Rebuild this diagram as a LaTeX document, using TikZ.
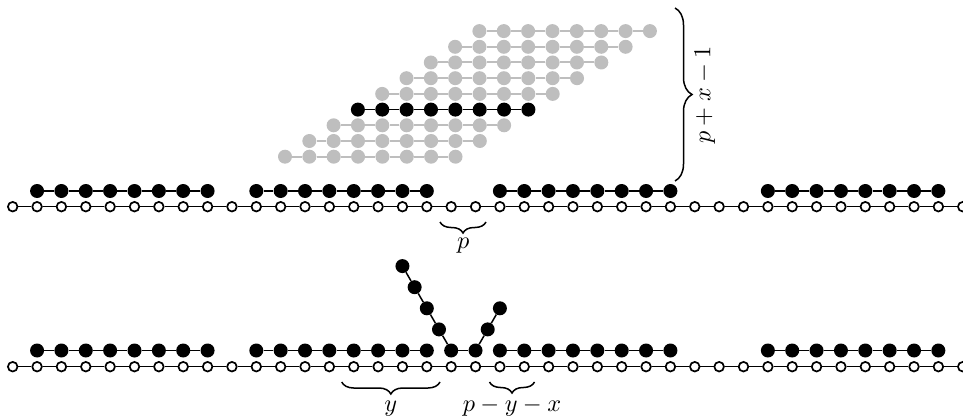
\documentclass[tikz,border=0pt]{standalone}
\usetikzlibrary{decorations.pathreplacing}
\definecolor{shade}{RGB}{190,190,190}
\tikzset{
  site/.style={circle, draw=black, fill=white, line width=1.7pt, minimum size=9.6pt, inner sep=0pt},
  bead/.style={circle, fill=black, minimum size=14pt, inner sep=0pt},
  ghost/.style={circle, fill=shade, minimum size=14pt, inner sep=0pt},
  bond/.style={line width=1.5pt},
  ghostbond/.style={line width=2pt, draw=shade},
  lbl/.style={scale=2.43, inner sep=0pt},
  brc/.style={decorate, decoration={brace, amplitude=#1}, line width=1.5pt},
}
\begin{document}
\begin{tikzpicture}[x=1pt,y=-1pt]
\useasboundingbox (0,0) rectangle (963,417);
\def\sp{24.36}
\def\xo{12.7}

% two lattices: top (t) and bottom (u)
\foreach \r/\yw/\yb in {t/206.7/191, u/366.7/350.5} {
  \foreach \i in {0,...,39}
    \node[site] (\r w\i) at ({\xo+\i*\sp},\yw) {};
  \foreach \i [remember=\i as \j (initially 0)] in {1,...,39}
    \draw[bond] (\r w\j) -- (\r w\i);
  % adsorbed segments of length 8
  \foreach \a/\b in {1/8,10/17,20/27,31/38} {
    \foreach \i in {\a,...,\b}
      \node[bead] (\r b\i) at ({\xo+\i*\sp},\yb) {};
    \pgfmathtruncatemacro\aa{\a+1}
    \foreach \i [remember=\i as \j (initially \a)] in {\aa,...,\b}
      \draw[bond] (\r b\j) -- (\r b\i);
  }
}

% sliding positions of one segment
\foreach \k in {0,...,8} {
  \pgfmathsetmacro\ys{156.7-15.7*\k}
  \pgfmathsetmacro\xs{285+24.3*\k}
  \ifnum\k=3
    \tikzset{cur/.style={bead}, curbond/.style={bond}}
  \else
    \tikzset{cur/.style={ghost}, curbond/.style={ghostbond}}
  \fi
  \foreach \j in {0,...,7}
    \node[cur] (s\k-\j) at ({\xs+\j*\sp},\ys) {};
  \foreach \j [remember=\j as \m (initially 0)] in {1,...,7}
    \draw[curbond] (s\k-\m) -- (s\k-\j);
}

% partially desorbed segment in the bottom lattice
\node[bead] (ub18) at ({\xo+18*\sp},350.5) {};
\node[bead] (ub19) at ({\xo+19*\sp},350.5) {};
\draw[bond] (ub18) -- (ub19);
\foreach \k in {1,...,4}
  \node[bead] (la\k) at ({\xo+18*\sp-12.18*\k},{350.5-21.1*\k}) {};
\draw[bond] (ub18) -- (la1) -- (la2) -- (la3) -- (la4);
\foreach \k in {1,2}
  \node[bead] (ra\k) at ({\xo+19*\sp+12.18*\k},{350.5-21.1*\k}) {};
\draw[bond] (ub19) -- (ra1) -- (ra2);

% braces and labels
\coordinate (pr) at (486,222);
\coordinate (pl) at (440,222);
\draw[brc=11pt] (pr) -- (pl);
\node[lbl, anchor=base] (plab) at (463.3,248) {$p$};

\coordinate (yr) at (440,382);
\coordinate (yl) at (341.7,382);
\draw[brc=12pt] (yr) -- (yl);
\node[lbl, anchor=base] (ylab) at (390.8,411) {$y$};

\coordinate (qr) at (534.5,382);
\coordinate (ql) at (489.5,382);
\draw[brc=11pt] (qr) -- (ql);
\node[lbl, anchor=base] (qlab) at (512,411) {$p-y-x$};

\coordinate (st) at (675,8);
\coordinate (sb) at (675,181);
\draw[brc=17pt] (st) -- (sb);
\node[lbl, rotate=90] (slab) at (705,95) {$p+x-1$};
\end{tikzpicture}
\end{document}
